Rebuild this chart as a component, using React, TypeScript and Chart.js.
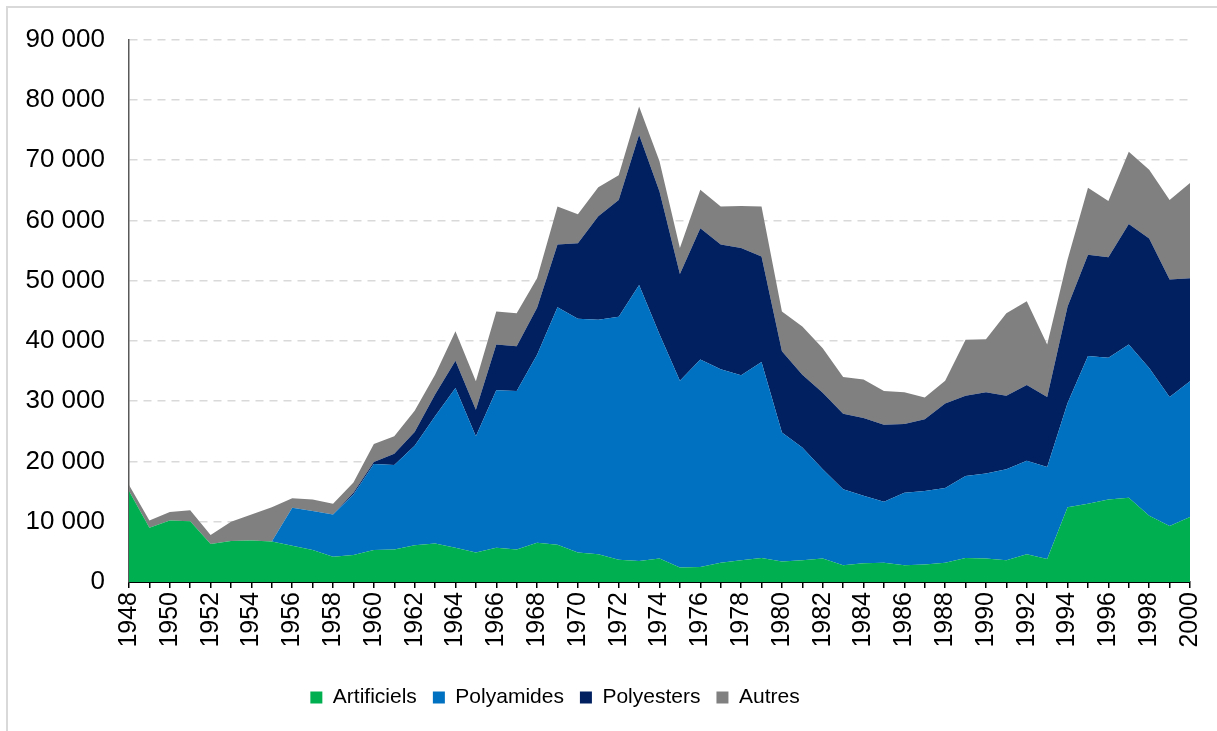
import React, { useEffect, useRef } from "react";
import { Chart, registerables } from "chart.js";

Chart.register(...registerables);

const years: string[] = [];
for (let y = 1948; y <= 2000; y++) years.push(String(y));

const artificiels = [
  15100, 9000, 10200, 10100, 6300, 6800, 6900, 6700, 6000, 5300, 4200, 4500, 5300, 5400, 6100, 6400, 5700, 4900, 5700, 5400,
  6500, 6200, 4900, 4600, 3700, 3500, 3900, 2400, 2500, 3200, 3600, 4000, 3400, 3600, 3900, 2800, 3100, 3200, 2800, 2900,
  3200, 4000, 3900, 3600, 4600, 3800, 12400, 13000, 13700, 14000, 11000, 9300, 10800,
];
const polyamides = [
  0, 0, 0, 0, 0, 0, 0, 0, 6300, 6500, 7000, 10000, 14300, 14000, 16500, 21100, 26500, 19300, 26100, 26300,
  31200, 39400, 38800, 38900, 40300, 45800, 37200, 31000, 34400, 32100, 30700, 32500, 21400, 18700, 14800, 12600, 11200, 10100, 12000, 12200,
  12400, 13600, 14100, 15100, 15500, 15300, 17300, 24500, 23500, 25400, 24500, 21400, 22500,
];
const polyesters = [
  0, 0, 0, 0, 0, 0, 0, 0, 0, 0, 0, 300, 300, 1900, 2300, 3600, 4500, 4400, 7600, 7400,
  7800, 10400, 12500, 17200, 19400, 24900, 23700, 17700, 21800, 20700, 21100, 17500, 13500, 12100, 12700, 12500, 12900, 12800, 11400, 11900,
  14000, 13300, 13500, 12200, 12600, 11600, 16000, 16800, 16700, 20000, 21500, 19500, 17100,
];
const autres = [
  1000, 1200, 1400, 1800, 1500, 3200, 4300, 5700, 1600, 1900, 1800, 1700, 3000, 2900, 3500, 3300, 4900, 4700, 5500, 5500,
  4900, 6300, 4800, 4800, 4100, 4700, 5000, 4300, 6400, 6300, 7000, 8300, 6600, 8000, 7400, 6100, 6400, 5600, 5300, 3600,
  3800, 9300, 8800, 13700, 13900, 8700, 7800, 11100, 9300, 12000, 11400, 13200, 15800,
];

const seriesNames = ["Artificiels", "Polyamides", "Polyesters", "Autres"];
const seriesColors = ["#00b050", "#0070c0", "#002060", "#808080"];

const FONT = "'Liberation Sans', Arial, sans-serif";

function fmt(v: number): string {
  const s = Math.round(v).toString();
  return s.replace(/\B(?=(\d{3})+(?!\d))/g, " ");
}

export default function App() {
  const ref = useRef<HTMLCanvasElement | null>(null);

  useEffect(() => {
    document.body.style.margin = "0";
    const canvas = ref.current;
    if (!canvas) return;
    const values = [artificiels, polyamides, polyesters, autres];
    const chart = new Chart(canvas, {
      type: "line",
      data: {
        labels: years,
        datasets: values.map((d, i) => ({
          label: seriesNames[i],
          data: d,
          backgroundColor: seriesColors[i],
          borderColor: seriesColors[i],
          borderWidth: 0,
          pointRadius: 0,
          tension: 0,
          fill: i === 0 ? "origin" : "-1",
        })),
      },
      options: {
        animation: false,
        responsive: false,
        maintainAspectRatio: false,
        layout: { padding: { left: 0, right: 27, top: 38, bottom: 13 } },
        plugins: {
          tooltip: { enabled: false },
          legend: {
            position: "bottom",
            labels: {
              boxWidth: 12,
              boxHeight: 12,
              padding: 16,
              color: "#000",
              font: { family: FONT, size: 21 },
            },
          },
        },
        scales: {
          x: {
            type: "category",
            offset: false,
            stacked: true,
            grid: {
              drawOnChartArea: false,
              drawTicks: true,
              tickLength: 6,
              color: "#000",
              lineWidth: 1.5,
            },
            border: { display: true, color: "#000", width: 2 },
            ticks: {
              autoSkip: false,
              maxRotation: 90,
              minRotation: 90,
              padding: 4,
              color: "#000",
              font: { family: FONT, size: 25 },
              callback: (_v: any, i: number) => ((1948 + i) % 2 === 0 ? String(1948 + i) : ""),
            },
            afterFit: (s: any) => {
              s.height = 89;
              s.paddingLeft = 0;
              s.paddingRight = 0;
            },
          },
          y: {
            stacked: true,
            min: 0,
            max: 90000,
            grid: {
              drawTicks: false,
              color: "#d9d9d9",
              lineWidth: 1.5,
            },
            border: { display: true, color: "#595959", width: 1.5, dash: [8, 6] },
            ticks: {
              stepSize: 10000,
              padding: 24,
              color: "#000",
              font: { family: FONT, size: 26 },
              callback: (v: any) => fmt(Number(v)),
            },
            afterFit: (s: any) => {
              s.width = 209;
            },
          },
        },
      },
    });
    return () => chart.destroy();
  }, []);

  return (
    <div style={{ position: "relative", width: 1217, height: 731, overflow: "hidden", background: "#fff" }}>
      <div
        style={{
          position: "absolute",
          left: 6,
          top: 6,
          width: 1300,
          height: 800,
          borderLeft: "2px solid #d9d9d9",
          borderTop: "2px solid #d9d9d9",
        }}
      />
      <canvas ref={ref} width={1297} height={731} style={{ position: "absolute", left: -80, top: 0, display: "block" }} />
    </div>
  );
}
